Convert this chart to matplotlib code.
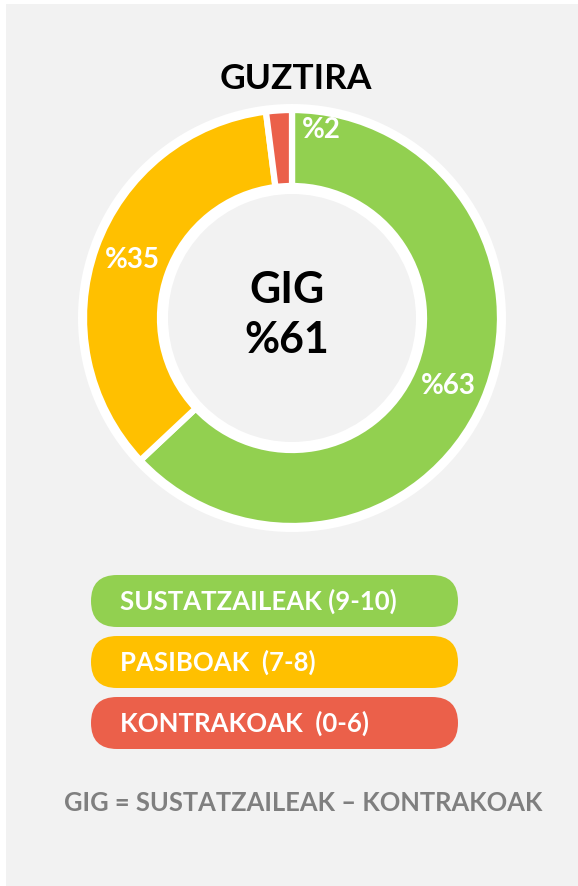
import matplotlib
matplotlib.use('Agg')
import matplotlib.pyplot as plt
from matplotlib.patches import Wedge, Rectangle, FancyBboxPatch
import numpy as np

plt.rcParams['font.family'] = ['Lato', 'DejaVu Sans']

# ------------------------------------------------------------------
# data
# ------------------------------------------------------------------
title = 'GUZTIRA'
categories = ['SUSTATZAILEAK (9-10)', 'PASIBOAK  (7-8)', 'KONTRAKOAK  (0-6)']
shares = [63, 35, 2]
colors = ['#92D050', '#FFC000', '#EB604A']
gig_value = 61
footnote = 'GIG = SUSTATZAILEAK \u2013 KONTRAKOAK'

W, H = 578, 886
fig = plt.figure(figsize=(W / 100, H / 100), dpi=100, facecolor='white')
ax = fig.add_axes([0, 0, 1, 1])

# background panel
ax.add_patch(Rectangle((6, 0), W - 6, H - 4, facecolor='#F2F2F2', edgecolor='none', zorder=0))

# donut
cx, cy = 292, H - 318
r_out, r_in = 208, 132
ax.add_patch(Wedge((cx, cy), r_out + 6, 0, 360, width=r_out - r_in + 14,
                   facecolor='white', edgecolor='none', zorder=0.5))
wedges, _ = ax.pie(shares, colors=colors, startangle=90, counterclock=False,
                   center=(cx, cy), radius=r_out,
                   wedgeprops=dict(width=r_out - r_in, edgecolor='white', linewidth=4.5))

mid_r = (r_out + r_in) / 2
for w, s in zip(wedges, shares):
    ang = np.deg2rad((w.theta1 + w.theta2) / 2)
    rr = mid_r
    if s < 5:
        # small slice: label sits just clockwise of it, near the outer edge
        ang = np.deg2rad(w.theta2 - 16)
        rr = r_out - 18
    ax.text(cx + rr * np.cos(ang), cy + rr * np.sin(ang), f'%{s}',
            ha='center', va='center', color='white', fontsize=20, fontweight='bold')

ax.text(cx - 5, cy + 28, 'GIG', ha='center', va='center', fontsize=31, fontweight='bold', color='black')
ax.text(cx - 5, cy - 22, f'%{gig_value}', ha='center', va='center', fontsize=31, fontweight='bold', color='black')

ax.text(296, H - 79, title, ha='center', va='center', fontsize=25.5, fontweight='bold', color='black')

# legend pills
pill_x, pill_w, pill_h = 91, 367, 52
pill_top = [575, 636, 697]
for lab, col, top in zip(categories, colors, pill_top):
    y0 = H - top - pill_h
    ax.add_patch(FancyBboxPatch((pill_x, y0), pill_w, pill_h,
                                boxstyle=f'round,pad=0,rounding_size={pill_h / 2}',
                                facecolor=col, edgecolor='none', zorder=2))
    ax.text(120, y0 + pill_h / 2, lab, ha='left', va='center', fontsize=18.5,
            fontweight='bold', color='white', zorder=3)

ax.text(303, H - 803, footnote, ha='center', va='center', fontsize=18.4,
        fontweight='bold', color='#7F7F7F')

ax.set_xlim(0, W)
ax.set_ylim(0, H)
ax.set_aspect('equal')
ax.axis('off')

fig.savefig('out.png', dpi=100, facecolor='white')
